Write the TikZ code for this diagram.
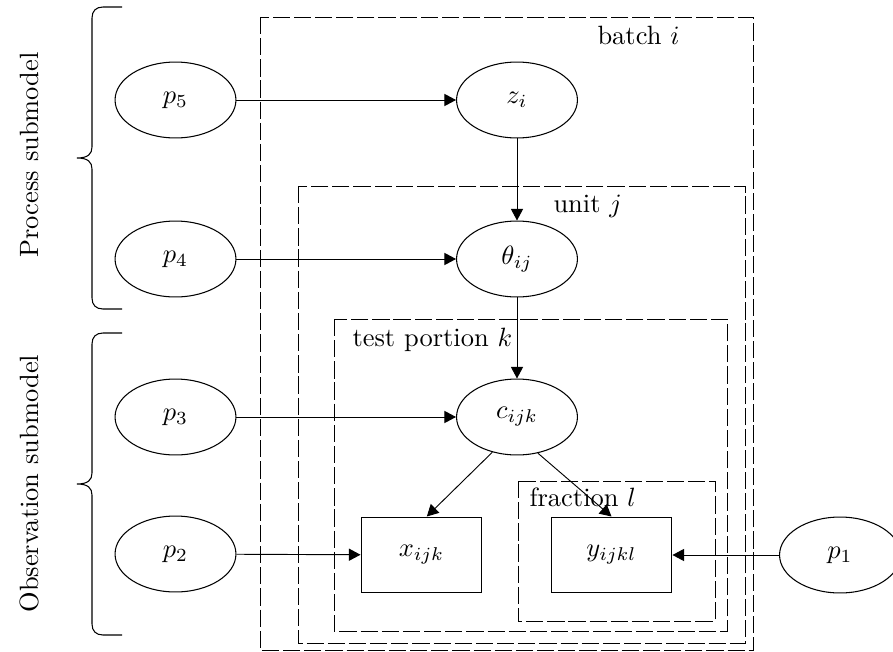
\documentclass[tikz,border=0pt]{standalone}
\usetikzlibrary{arrows.meta,shapes.geometric,calc}
\begin{document}
\begin{tikzpicture}[x=0.378pt,y=-0.378pt,
  var/.style={ellipse,draw,minimum width=45.7pt,minimum height=28.7pt,inner sep=0pt},
  obs/.style={rectangle,draw,minimum width=45.7pt,minimum height=28.7pt,inner sep=0pt},
  plate/.style={draw,line width=0.3pt,dash pattern=on 6.5pt off 1.5pt},
  edge/.style={line width=0.35pt,-{Triangle[length=4.4pt,width=4.6pt]}},
  lbl/.style={inner sep=0pt,anchor=base west},
  brace/.style={draw,line width=0.4pt}]
\useasboundingbox (0,0) rectangle (893,652);
% plates
\draw[plate] (260,17) rectangle (753,650);
\draw[plate] (298,186) rectangle (745,643);
\draw[plate] (334,319) rectangle (727,631);
\draw[plate] (518,481) rectangle (715,621);
\node[lbl] (lbatch) at (597,44) {batch $i$};
\node[lbl] (lunit) at (553,212) {unit $j$};
\node[lbl] (ltest) at (352,346) {test portion $k$};
\node[lbl] (lfrac) at (529,506) {fraction $l$};
% nodes
\node[var] (p5) at (175.5,100) {$p_5$};
\node[var] (p4) at (175.5,259) {$p_4$};
\node[var] (p3) at (175.5,417) {$p_3$};
\node[var] (p2) at (175.5,554) {$p_2$};
\node[var] (p1) at (840,555) {$p_1$};
\node[var] (z) at (517,100) {$z_i$};
\node[var] (th) at (517,259) {$\theta_{ij}$};
\node[var] (c) at (517,417) {$c_{ijk}$};
\node[obs] (x) at (421.5,555) {$x_{ijk}$};
\node[obs] (y) at (611.5,555) {$y_{ijkl}$};
% edges
\draw[edge] (p5) -- (z);
\draw[edge] (p4) -- (th);
\draw[edge] (p3) -- (c);
\draw[edge] (p2) -- (x);
\draw[edge] (p1) -- (y);
\draw[edge] (z) -- (th);
\draw[edge] (th) -- (c);
\draw[edge] (c.235) -- ([xshift=2pt]x.north);
\draw[edge] (c.300) -- (y.north);
% braces
\draw[brace] (122,7) -- (103,7) .. controls (96,7) and (92,11) .. (92,18) -- (92,147) .. controls (92,154) and (88,158) .. (77,158) .. controls (88,158) and (92,162) .. (92,169) -- (92,298) .. controls (92,305) and (96,309) .. (103,309) -- (122,309);
\draw[brace] (122,333) -- (103,333) .. controls (96,333) and (92,337) .. (92,344) -- (92,473) .. controls (92,480) and (88,484) .. (77,484) .. controls (88,484) and (92,488) .. (92,495) -- (92,624) .. controls (92,631) and (96,635) .. (103,635) -- (122,635);
\node[lbl,rotate=90] (proc) at (38,258) {Process submodel};
\node[lbl,rotate=90] (obsm) at (38,613) {Observation submodel};
\end{tikzpicture}
\end{document}
